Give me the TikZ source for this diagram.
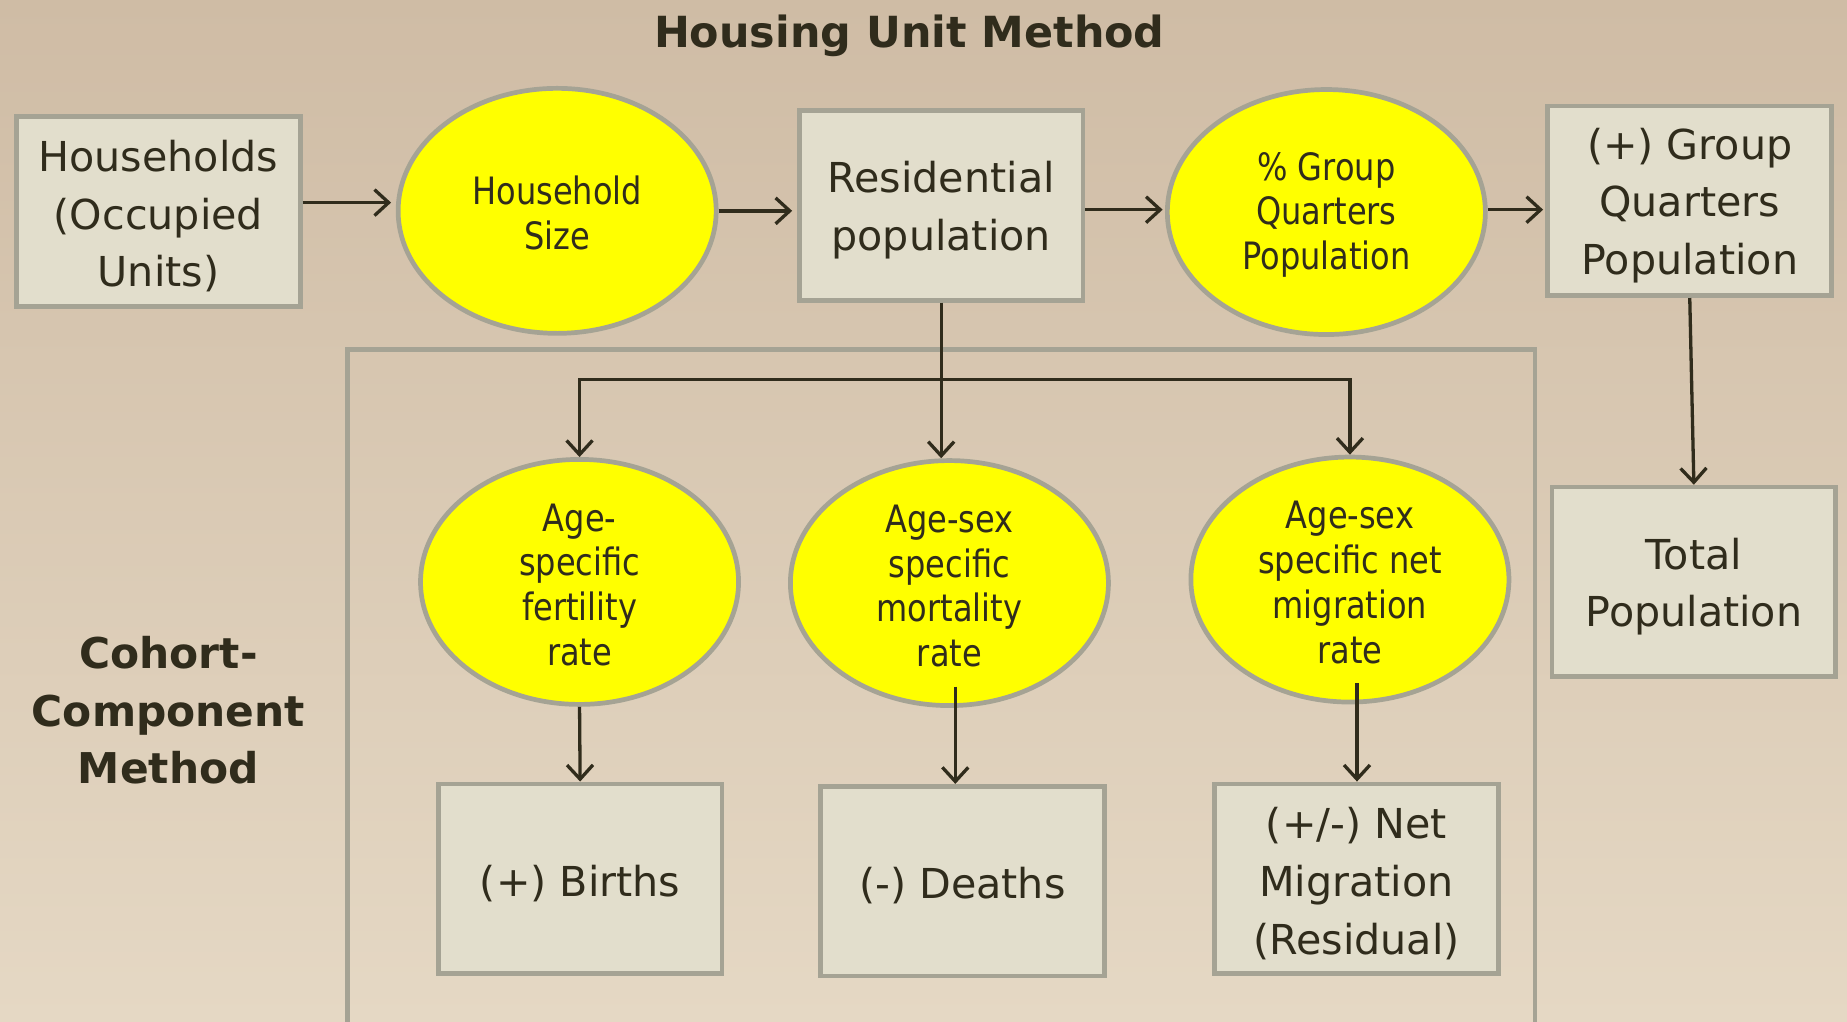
\documentclass[tikz,border=0pt]{standalone}
\usepackage{fontspec}
\setmainfont{DejaVu Sans}
\newfontfamily\narrowfont[FakeStretch=0.85]{DejaVu Sans}
\usetikzlibrary{shapes.geometric,arrows.meta}
\definecolor{bgtop}{RGB}{207,188,165}
\definecolor{bgbot}{RGB}{229,216,196}
\definecolor{boxfill}{RGB}{226,222,204}
\definecolor{edge}{RGB}{165,163,148}
\definecolor{ink}{RGB}{48,44,28}
\definecolor{yel}{RGB}{255,255,0}
\newcommand\bstrut{\rule{0pt}{17.3pt}}
\newcommand\estrut{\rule{0pt}{14.2pt}}
\begin{document}
\begin{tikzpicture}[x=0.5pt,y=-0.5pt,
  rbox/.style={draw=edge,line width=2pt,fill=boxfill,minimum width=120.5pt,minimum height=80.5pt,inner sep=0pt,align=center,text=ink,font=\fontsize{17.5}{24.5}\selectfont},
  ell/.style={ellipse,draw=edge,line width=2pt,fill=yel,minimum width=135pt,minimum height=104pt,inner sep=0pt,align=center,text=ink,font=\narrowfont\fontsize{16}{19}\selectfont},
  arr/.style={draw=ink,line width=1.4pt,-{Straight Barb[length=6pt,width=11pt]}},
  lbl/.style={text=ink,align=center,font=\bfseries\fontsize{18}{24.5}\selectfont}]
\useasboundingbox (0,0) rectangle (1568,867);
\shade[top color=bgtop,bottom color=bgbot] (0,0) rectangle (1568,867);

\node[lbl,font=\bfseries\fontsize{18.2}{22}\selectfont] (title) at (772,30) {Housing Unit Method};
\node[lbl] (ccm) at (143,603) {Cohort-\\Component\\Method};

\begin{scope}
\clip (0,0) rectangle (1568,867);
\draw[edge,line width=2pt] (295,890) -- (295,297) -- (1303,297) -- (1303,890);
\end{scope}

\node[rbox] (hh) at (134.5,179.5) {\bstrut Households\\(Occupied\\Units)};
\node[ell] (hs) at (473,179) {\estrut Household\\Size};
\node[rbox] (res) at (799,174.5) {\bstrut Residential\\population};
\node[ell] (gqp) at (1126,180) {\estrut\% Group\\Quarters\\Population};
\node[rbox] (gq) at (1434.5,170.5) {\bstrut(+) Group\\Quarters\\Population};
\node[rbox] (tot) at (1438,494) {\bstrut Total\\Population};

\node[ell] (asfr) at (492,494) {\estrut Age-\\specific\\fertility\\rate};
\node[ell] (asmr) at (806,495) {\estrut Age-sex\\specific\\mortality\\rate};
\node[ell] (asnm) at (1146,492) {\estrut Age-sex\\specific net\\migration\\rate};

\node[rbox] (births) at (492.5,746) {\bstrut(+) Births};
\node[rbox] (deaths) at (817,748) {\bstrut(-) Deaths};
\node[rbox] (net) at (1151.5,746) {\bstrut(+/-) Net\\Migration\\(Residual)};

\coordinate (br) at (799,322);
\coordinate (m1) at (811,583);
\coordinate (n1) at (1152,580);

\draw[arr,shorten >=2pt] (hh.east |- 0,172) -- (hs.west |- 0,172);
\draw[arr,shorten >=2pt] (hs.east) -- (res.west |- hs.east);
\draw[arr,shorten >=1pt] (res.east |- 0,178) -- (gqp.west |- 0,178);
\draw[arr,shorten >=1pt] (gqp.east |- 0,178) -- (gq.west |- 0,178);
\draw[arr] (gq.south) -- (tot.north);
\draw[arr] (res.south) -- (res.south |- asmr.north);
\draw[arr] (br) -| (asfr.north);
\draw[arr] (br) -| (asnm.north);
\draw[arr] (asfr.south) -- (births.north);
\draw[arr] (m1) -- (m1 |- deaths.north);
\draw[arr] (n1) -- (n1 |- net.north);
\end{tikzpicture}
\end{document}
